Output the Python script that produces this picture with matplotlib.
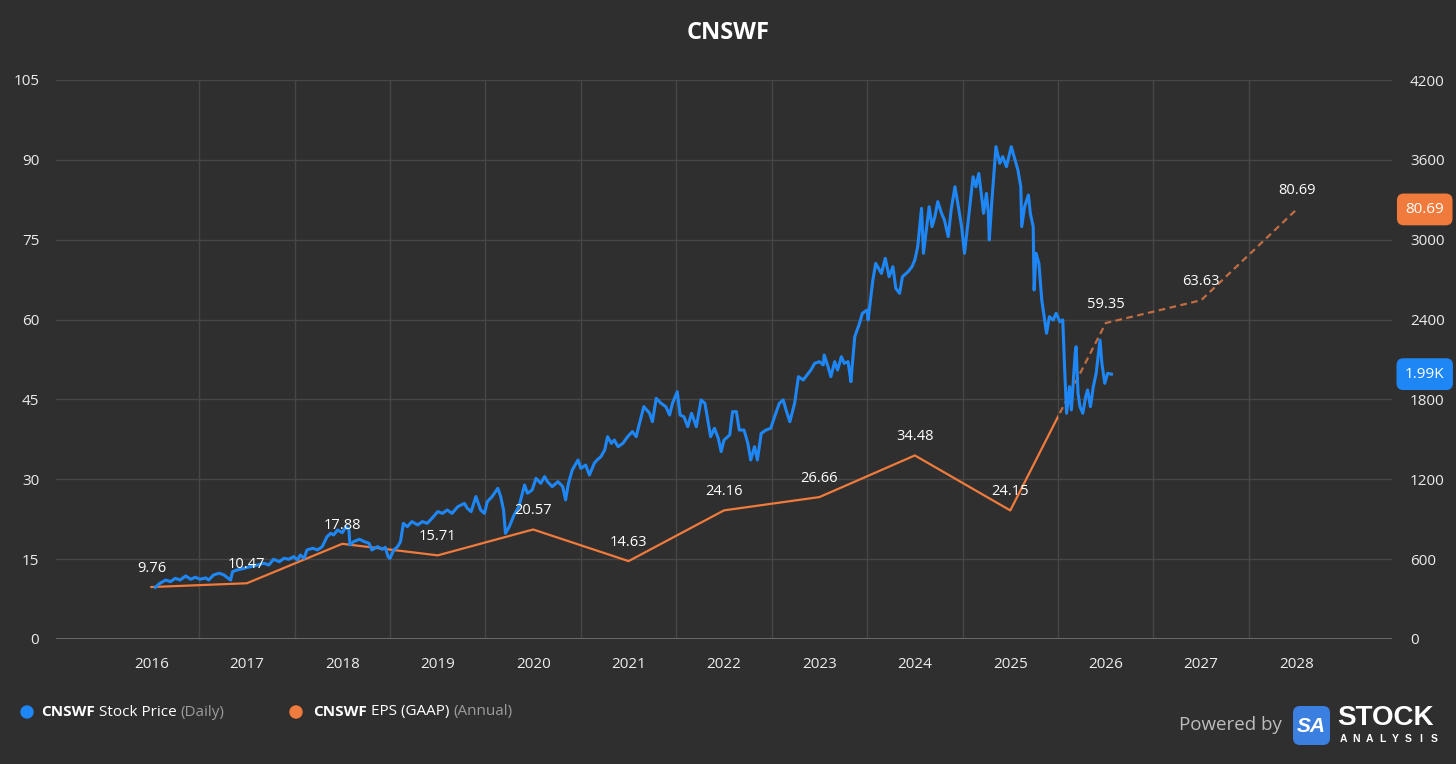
import matplotlib
matplotlib.use("Agg")
import matplotlib.pyplot as plt
from matplotlib.patches import Rectangle, FancyBboxPatch
from matplotlib.transforms import IdentityTransform, blended_transform_factory

plt.rcParams['font.family'] = ['Open Sans', 'DejaVu Sans']

# EPS (GAAP), annual, left axis
eps_years = [2016, 2017, 2018, 2019, 2020, 2021, 2022, 2023, 2024, 2025, 2026, 2027, 2028]
eps_values = [9.76, 10.47, 17.88, 15.71, 20.57, 14.63, 24.16, 26.66, 34.48, 24.15, 59.35, 63.63, 80.69]
last_actual_year = 2025

# stock price (daily), right axis
price_dates = [
    2016.54, 2016.59, 2016.65, 2016.70, 2016.75, 2016.80, 2016.86, 2016.91, 2016.96, 2017.01,
    2017.07, 2017.10, 2017.15, 2017.21, 2017.26, 2017.29, 2017.33, 2017.35, 2017.40, 2017.47,
    2017.54, 2017.61, 2017.68, 2017.73, 2017.78, 2017.84, 2017.89, 2017.94, 2017.99, 2018.03,
    2018.06, 2018.10, 2018.13, 2018.19, 2018.24, 2018.29, 2018.34, 2018.38, 2018.41, 2018.45,
    2018.50, 2018.54, 2018.57, 2018.58, 2018.62, 2018.68, 2018.73, 2018.78, 2018.81, 2018.87,
    2018.92, 2018.95, 2018.98, 2019.00, 2019.04, 2019.08, 2019.11, 2019.14, 2019.18, 2019.23,
    2019.29, 2019.34, 2019.39, 2019.44, 2019.50, 2019.55, 2019.60, 2019.65, 2019.71, 2019.78,
    2019.81, 2019.85, 2019.90, 2019.95, 2019.99, 2020.02, 2020.07, 2020.13, 2020.16, 2020.19,
    2020.21, 2020.25, 2020.30, 2020.35, 2020.41, 2020.44, 2020.49, 2020.53, 2020.58, 2020.62,
    2020.65, 2020.70, 2020.76, 2020.81, 2020.84, 2020.87, 2020.91, 2020.97, 2021.00, 2021.05,
    2021.09, 2021.14, 2021.17, 2021.21, 2021.25, 2021.28, 2021.32, 2021.35, 2021.39, 2021.44,
    2021.49, 2021.54, 2021.58, 2021.61, 2021.66, 2021.72, 2021.75, 2021.79, 2021.84, 2021.89,
    2021.93, 2021.96, 2022.01, 2022.04, 2022.08, 2022.12, 2022.16, 2022.21, 2022.26, 2022.30,
    2022.33, 2022.36, 2022.40, 2022.44, 2022.47, 2022.50, 2022.56, 2022.59, 2022.63, 2022.66,
    2022.71, 2022.75, 2022.78, 2022.82, 2022.85, 2022.89, 2022.94, 2022.99, 2023.03, 2023.08,
    2023.12, 2023.15, 2023.19, 2023.24, 2023.28, 2023.33, 2023.37, 2023.41, 2023.45, 2023.50,
    2023.54, 2023.55, 2023.59, 2023.62, 2023.66, 2023.69, 2023.73, 2023.76, 2023.80, 2023.83,
    2023.84, 2023.87, 2023.92, 2023.95, 2024.00, 2024.01, 2024.06, 2024.09, 2024.15, 2024.19,
    2024.23, 2024.27, 2024.30, 2024.34, 2024.37, 2024.43, 2024.47, 2024.50, 2024.53, 2024.57,
    2024.59, 2024.62, 2024.65, 2024.68, 2024.71, 2024.74, 2024.78, 2024.81, 2024.85, 2024.88,
    2024.92, 2024.95, 2024.99, 2025.02, 2025.06, 2025.11, 2025.14, 2025.17, 2025.20, 2025.22,
    2025.25, 2025.27, 2025.28, 2025.31, 2025.35, 2025.39, 2025.42, 2025.46, 2025.51, 2025.55,
    2025.58, 2025.61, 2025.62, 2025.65, 2025.69, 2025.71, 2025.74, 2025.75, 2025.77, 2025.80,
    2025.83, 2025.88, 2025.91, 2025.95, 2025.98, 2026.02, 2026.05, 2026.07, 2026.09, 2026.12,
    2026.14, 2026.18, 2026.19, 2026.21, 2026.23, 2026.26, 2026.29, 2026.31, 2026.34, 2026.37,
    2026.40, 2026.44, 2026.46, 2026.49, 2026.52, 2026.56,
]
price_values = [
    388, 419, 443, 431, 456, 443, 474, 449, 464, 449,
    459, 443, 481, 494, 481, 464, 443, 506, 519, 531,
    544, 556, 569, 556, 599, 581, 606, 599, 619, 594,
    631, 606, 669, 682, 669, 694, 769, 794, 782, 819,
    799, 844, 819, 707, 732, 749, 732, 719, 669, 694,
    674, 689, 619, 606, 669, 694, 732, 869, 844, 882,
    857, 882, 869, 907, 957, 944, 969, 944, 994, 1019,
    982, 957, 1070, 969, 944, 1032, 1070, 1132, 1070, 969,
    794, 844, 932, 994, 1157, 1095, 1120, 1207, 1170, 1220,
    1182, 1145, 1182, 1145, 1045, 1170, 1270, 1345, 1282, 1307,
    1232, 1320, 1345, 1370, 1420, 1520, 1470, 1495, 1445, 1470,
    1520, 1558, 1520, 1608, 1746, 1696, 1633, 1808, 1771, 1746,
    1683, 1771, 1858, 1683, 1670, 1595, 1696, 1595, 1796, 1771,
    1645, 1520, 1583, 1508, 1408, 1495, 1533, 1708, 1708, 1570,
    1570, 1470, 1345, 1445, 1345, 1545, 1570, 1583, 1670, 1771,
    1796, 1721, 1633, 1771, 1971, 1946, 1983, 2021, 2071, 2084,
    2059, 2134, 2046, 1971, 2084, 2021, 2121, 2071, 2084, 1933,
    2021, 2271, 2372, 2447, 2472, 2397, 2697, 2822, 2747, 2860,
    2722, 2797, 2635, 2597, 2722, 2760, 2798, 2848, 2948, 3236,
    2898, 3073, 3248, 3098, 3173, 3286, 3198, 3148, 3023, 3223,
    3398, 3273, 3098, 2898, 3148, 3473, 3398, 3498, 3323, 3198,
    3348, 3198, 2998, 3323, 3699, 3574, 3624, 3549, 3699, 3599,
    3524, 3398, 3098, 3248, 3336, 3198, 3098, 2622, 2898, 2822,
    2547, 2297, 2422, 2397, 2447, 2384, 2397, 2021, 1696, 1896,
    1721, 2146, 2196, 1846, 1746, 1696, 1821, 1871, 1746, 1896,
    1996, 2246, 2071, 1921, 1996, 1990,
]

left_ticks = [0, 15, 30, 45, 60, 75, 90, 105]
right_ticks = [0, 600, 1200, 1800, 2400, 3000, 3600, 4200]
year_labels = [str(y) for y in eps_years]

BG = "#2f2f2f"
GRID = "#464646"
TXT = "#ececec"
BLUE = "#1e87f5"
ORANGE = "#f07b3c"
ORANGE_EST = "#c06d42"

W, H = 1456, 764
fig = plt.figure(figsize=(W / 100, H / 100), dpi=100, facecolor=BG)
ax = fig.add_axes([56 / W, 1 - 639 / H, (1392 - 56) / W, (639 - 80) / H])
ax.set_facecolor(BG)
ax2 = ax.twinx()

# year positions: label at mid-year, grid at year boundaries
eps_x = [y + 0.5 for y in eps_years]
ax.set_xlim(2015.5, 2029.5)
ax.set_xticks(eps_x)
ax.set_xticklabels(year_labels)
ax.set_xticks(list(range(2017, 2029)), minor=True)
ax.grid(True, which="minor", axis="x", color=GRID, lw=1)
ax.grid(True, which="major", axis="y", color=GRID, lw=1)

ax.set_ylim(0, 105)
ax.set_yticks(left_ticks)
ax2.set_ylim(0, 4200)
ax2.set_yticks(right_ticks)

for a in (ax, ax2):
    for s in a.spines.values():
        s.set_visible(False)
    a.tick_params(length=0, colors=TXT, labelsize=11, which="both")
ax.tick_params(axis="y", pad=12)
ax.tick_params(axis="x", pad=13)
ax2.tick_params(axis="y", pad=13)
ax.axhline(0, color="#707070", lw=2, zorder=3)

# EPS line: solid up to the end of the last reported year, dashed after
split = last_actual_year + 1
solid, = ax.plot(eps_x, eps_values, color=ORANGE, lw=1.6, zorder=4)
solid.set_clip_path(Rectangle((2015.5, -10), split - 2015.5, 200, transform=ax.transData))
est, = ax.plot(eps_x, eps_values, color=ORANGE_EST, lw=1.6, ls=(0, (3, 2)), zorder=4)
est.set_clip_path(Rectangle((split, -10), 10, 200, transform=ax.transData))

# stock price
ax2.plot(price_dates, price_values, color=BLUE, lw=2.2, zorder=3, solid_joinstyle="round")

# EPS value labels (drawn on top of the price line)
for x, v in zip(eps_x, eps_values):
    ax2.annotate(f"{v:.2f}", xy=(x, v), xycoords=ax.transData, xytext=(0, 8),
                 textcoords="offset points", ha="center", va="bottom",
                 color="white", fontsize=10.5, zorder=6)

# last value badges on the right
bt = blended_transform_factory(ax.transAxes, ax.transData)
ax2.text(1.0245, eps_values[-1], f"{eps_values[-1]:.2f}", transform=bt, ha="center", va="center",
         color="white", fontsize=11, clip_on=False,
         bbox=dict(boxstyle="round,pad=0.55,rounding_size=0.45", fc=ORANGE, ec="none"))
bt2 = blended_transform_factory(ax2.transAxes, ax2.transData)
ax2.text(1.0245, price_values[-1], f"{price_values[-1] / 1000:.2f}K", transform=bt2, ha="center",
         va="center", color="white", fontsize=11, clip_on=False,
         bbox=dict(boxstyle="round,pad=0.55,rounding_size=0.45", fc=BLUE, ec="none"))

fig.text(0.5, 1 - 33 / H, "CNSWF", ha="center", va="center", color="white",
         fontsize=17, fontweight="bold")

# legend row
renderer = fig.canvas.get_renderer()
idt = IdentityTransform()


def text_run(x, y, parts):
    for s, weight, col in parts:
        t = fig.text(x, H - y, s, transform=idt, ha="left", va="center", fontsize=11,
                     fontweight=weight, color=col)
        x = t.get_window_extent(renderer).x1 + 4
    return x


fig.add_artist(plt.Circle((27, H - 712), 6, color=BLUE, transform=idt))
text_run(41, 712, [("CNSWF", "bold", "white"), ("Stock Price", "normal", "white"),
                   ("(Daily)", "normal", "#9c9c9c")])
fig.add_artist(plt.Circle((296, H - 712), 6, color=ORANGE, transform=idt))
text_run(313, 712, [("CNSWF", "bold", "white"), ("EPS (GAAP)", "normal", "white"),
                    ("(Annual)", "normal", "#9c9c9c")])

# powered by logo
fig.text(1282, H - 725, "Powered by", transform=idt, ha="right", va="center",
         fontsize=13.5, color="#bdbdbd")
fig.add_artist(FancyBboxPatch((1293, H - 745), 37, 39, boxstyle="round,pad=0,rounding_size=7",
                              fc="#3b7fe0", ec="none", transform=idt))
fig.text(1311.5, H - 726, "SA", transform=idt, ha="center", va="center", fontsize=15,
         fontweight="bold", fontstyle="italic", color="white", family="Liberation Sans")
fig.text(1337, H - 718, "STOCK", transform=idt, ha="left", va="center", fontsize=20,
         fontweight="bold", color="white", family="Liberation Sans")
for i, ch in enumerate("ANALYSIS"):
    fig.text(1343 + i * 13, H - 739, ch, transform=idt, ha="center", va="center", fontsize=7.5,
             fontweight="bold", color="white", family="Liberation Sans")

fig.savefig("out.png", dpi=100, facecolor=BG)
